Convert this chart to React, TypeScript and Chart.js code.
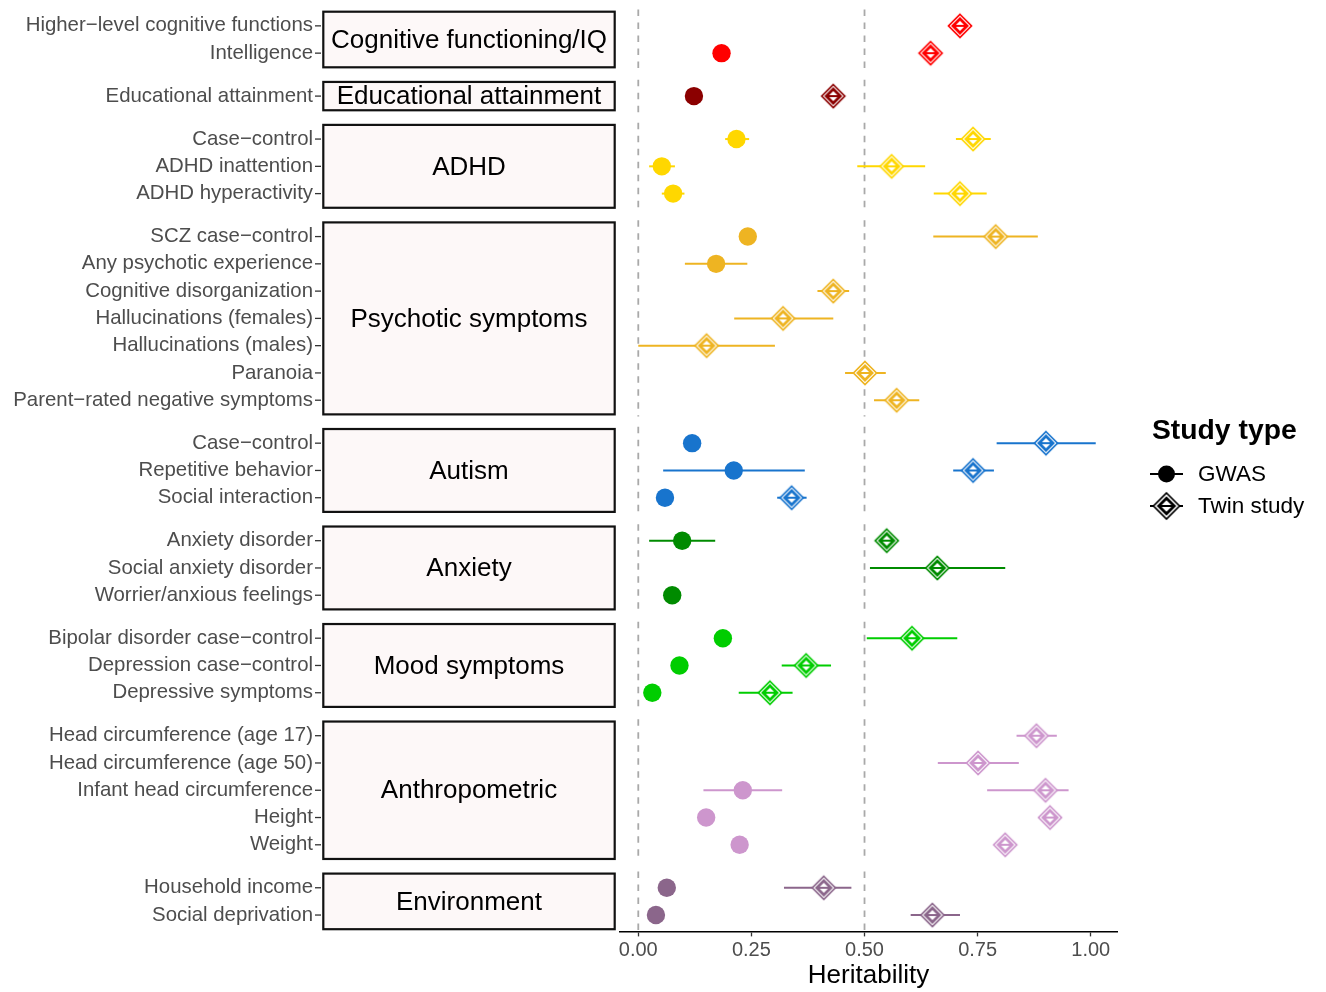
import React, { useEffect, useRef } from 'react';
import { Chart, registerables } from 'chart.js';

Chart.register(...registerables);

const FONT = '"Liberation Sans", Arial, Helvetica, sans-serif';

const groupNames = [
  'Cognitive functioning/IQ',
  'Educational attainment',
  'ADHD',
  'Psychotic symptoms',
  'Autism',
  'Anxiety',
  'Mood symptoms',
  'Anthropometric',
  'Environment',
];
const groupColors = ['#FF0000', '#8B0000', '#FFD700', '#EEB422', '#1874CD', '#008B00', '#00CD00', '#CD96CD', '#8B668B'];

const traitLabels = [
  'Higher\u2212level cognitive functions',
  'Intelligence',
  'Educational attainment',
  'Case\u2212control',
  'ADHD inattention',
  'ADHD hyperactivity',
  'SCZ case\u2212control',
  'Any psychotic experience',
  'Cognitive disorganization',
  'Hallucinations (females)',
  'Hallucinations (males)',
  'Paranoia',
  'Parent\u2212rated negative symptoms',
  'Case\u2212control',
  'Repetitive behavior',
  'Social interaction',
  'Anxiety disorder',
  'Social anxiety disorder',
  'Worrier/anxious feelings',
  'Bipolar disorder case\u2212control',
  'Depression case\u2212control',
  'Depressive symptoms',
  'Head circumference (age 17)',
  'Head circumference (age 50)',
  'Infant head circumference',
  'Height',
  'Weight',
  'Household income',
  'Social deprivation',
];
const traitGroup = [0, 0, 1, 2, 2, 2, 3, 3, 3, 3, 3, 3, 3, 4, 4, 4, 5, 5, 5, 6, 6, 6, 7, 7, 7, 7, 7, 8, 8];

const gwasH = [null, 0.184, 0.123, 0.217, 0.052, 0.077, 0.242, 0.172, null, null, null, null, null, 0.119, 0.211, 0.059, 0.097, null, 0.075, 0.187, 0.091, 0.031, null, null, 0.231, 0.150, 0.224, 0.063, 0.039];
const gwasLo = [null, null, null, 0.192, 0.024, 0.052, null, 0.103, null, null, null, null, null, null, 0.055, null, 0.024, null, null, null, null, null, null, null, 0.144, null, null, null, null];
const gwasHi = [null, null, null, 0.245, 0.081, 0.102, null, 0.241, null, null, null, null, null, null, 0.368, null, 0.170, null, null, null, null, null, null, null, 0.318, null, null, null, null];

const twinH = [0.711, 0.646, 0.431, 0.740, 0.560, 0.711, 0.790, null, 0.431, 0.320, 0.151, 0.501, 0.571, 0.901, 0.740, 0.339, 0.549, 0.661, null, 0.605, 0.371, 0.291, 0.880, 0.751, 0.900, 0.910, 0.811, 0.410, 0.650];
const twinLo = [null, null, null, 0.702, 0.484, 0.653, 0.652, null, 0.396, 0.212, 0.0, 0.457, 0.521, 0.792, 0.696, 0.307, null, 0.512, null, 0.505, 0.317, 0.222, 0.836, 0.662, 0.771, null, null, 0.322, 0.602];
const twinHi = [null, null, null, 0.779, 0.634, 0.770, 0.883, null, 0.466, 0.431, 0.302, 0.547, 0.621, 1.011, 0.786, 0.372, null, 0.811, null, 0.705, 0.426, 0.341, 0.925, 0.841, 0.951, null, null, 0.471, 0.711];

const xTicks = [0, 0.25, 0.5, 0.75, 1.0];
const refLines = [0, 0.5];
const legendTitle = 'Study type';
const legendItems = ['GWAS', 'Twin study'];
const xTitle = 'Heritability';

// layout of facet rows (in row units)
const PAD = 0.6;
const GAP = 0.375;
function buildLayout() {
  const pos: number[] = new Array(traitLabels.length).fill(0);
  const panels: { top: number; bottom: number }[] = [];
  let cursor = 0;
  groupNames.forEach((_, g) => {
    const idx = traitGroup.map((gg, i) => (gg === g ? i : -1)).filter((i) => i >= 0);
    const top = cursor;
    idx.forEach((i, k) => {
      pos[i] = top + PAD + k;
    });
    const bottom = top + idx.length - 1 + 2 * PAD;
    panels.push({ top, bottom });
    cursor = bottom + GAP;
  });
  return { pos, panels, total: cursor - GAP };
}

function twinMarker(color: string, outer = 11.5, inner = 7, size = 32) {
  const c = document.createElement('canvas');
  c.width = size;
  c.height = size;
  const ctx = c.getContext('2d')!;
  const m = size / 2;
  const diamond = (h: number) => {
    ctx.beginPath();
    ctx.moveTo(m, m - h);
    ctx.lineTo(m + h, m);
    ctx.lineTo(m, m + h);
    ctx.lineTo(m - h, m);
    ctx.closePath();
  };
  diamond(outer);
  ctx.fillStyle = '#ffffff';
  ctx.fill();
  ctx.lineWidth = 1.7;
  ctx.strokeStyle = color;
  ctx.stroke();
  diamond(inner);
  ctx.fillStyle = '#ffffff';
  ctx.fill();
  ctx.lineWidth = 2.8;
  ctx.stroke();
  ctx.beginPath();
  ctx.moveTo(m - inner + 0.3, m);
  ctx.lineTo(m + inner - 0.3, m);
  ctx.lineWidth = 2;
  ctx.stroke();
  return c;
}

export default function App() {
  const ref = useRef<HTMLCanvasElement>(null);
  useEffect(() => {
    const { pos, panels, total } = buildLayout();
    const markers = groupColors.map((c) => twinMarker(c));
    const blackMarker = twinMarker('#000000', 13, 7.8);

    const gIdx = gwasH.map((v, i) => (v == null ? -1 : i)).filter((i) => i >= 0);
    const tIdx = twinH.map((v, i) => (v == null ? -1 : i)).filter((i) => i >= 0);

    const facetPlugin = {
      id: 'facets',
      beforeDatasetsDraw(chart: any) {
        const ctx = chart.ctx;
        const xs = chart.scales.x;
        const ys = chart.scales.y;
        ctx.save();
        // dashed reference lines per panel
        ctx.strokeStyle = '#A9A9A9';
        ctx.lineWidth = 1.8;
        ctx.setLineDash([6.5, 6.5]);
        panels.forEach((p) => {
          refLines.forEach((v) => {
            const x = xs.getPixelForValue(v);
            ctx.beginPath();
            ctx.moveTo(x, ys.getPixelForValue(p.top));
            ctx.lineTo(x, ys.getPixelForValue(p.bottom));
            ctx.stroke();
          });
        });
        ctx.setLineDash([]);
        // error bars
        ctx.lineWidth = 2;
        traitLabels.forEach((_, i) => {
          const color = groupColors[traitGroup[i]];
          const y = ys.getPixelForValue(pos[i]);
          ctx.strokeStyle = color;
          if (gwasLo[i] != null && gwasHi[i] != null) {
            ctx.beginPath();
            ctx.moveTo(xs.getPixelForValue(gwasLo[i]), y);
            ctx.lineTo(xs.getPixelForValue(gwasHi[i]), y);
            ctx.stroke();
          }
          if (twinLo[i] != null && twinHi[i] != null) {
            ctx.beginPath();
            ctx.moveTo(xs.getPixelForValue(twinLo[i]), y);
            ctx.lineTo(xs.getPixelForValue(twinHi[i]), y);
            ctx.stroke();
          }
        });
        ctx.restore();
      },
      afterDraw(chart: any) {
        const ctx = chart.ctx;
        const ys = chart.scales.y;
        ctx.save();
        // strips
        const sx0 = 323.3;
        const sx1 = 614.7;
        panels.forEach((p, g) => {
          const y0 = ys.getPixelForValue(p.top) + 2.2;
          const y1 = ys.getPixelForValue(p.bottom) - 2.2;
          ctx.fillStyle = '#FDF8F8';
          ctx.fillRect(sx0, y0, sx1 - sx0, y1 - y0);
          ctx.strokeStyle = '#111111';
          ctx.lineWidth = 2.2;
          ctx.strokeRect(sx0, y0, sx1 - sx0, y1 - y0);
          ctx.fillStyle = '#000000';
          ctx.font = `26px ${FONT}`;
          ctx.textAlign = 'center';
          ctx.textBaseline = 'middle';
          ctx.fillText(groupNames[g], (sx0 + sx1) / 2, (y0 + y1) / 2 + 1);
        });
        // y tick marks
        ctx.strokeStyle = '#333333';
        ctx.lineWidth = 1.3;
        pos.forEach((v) => {
          const y = ys.getPixelForValue(v);
          ctx.beginPath();
          ctx.moveTo(315, y);
          ctx.lineTo(321, y);
          ctx.stroke();
        });
        // legend
        ctx.fillStyle = '#000000';
        ctx.textAlign = 'left';
        ctx.textBaseline = 'middle';
        ctx.font = `bold 28.3px ${FONT}`;
        ctx.fillText(legendTitle, 1152, 431);
        ctx.font = `22.5px ${FONT}`;
        const ly = [474, 506];
        ly.forEach((y, k) => {
          ctx.strokeStyle = '#000000';
          ctx.lineWidth = 2;
          ctx.beginPath();
          ctx.moveTo(1150, y);
          ctx.lineTo(1183, y);
          ctx.stroke();
          if (k === 0) {
            ctx.beginPath();
            ctx.arc(1166.5, y, 8.5, 0, Math.PI * 2);
            ctx.fill();
          } else {
            ctx.drawImage(blackMarker, 1166.5 - 16, y - 16);
          }
          ctx.fillText(legendItems[k], 1198, y + 1);
        });
        ctx.restore();
      },
    };

    const chart = new Chart(ref.current!, {
      type: 'scatter',
      data: {
        datasets: [
          {
            label: legendItems[0],
            data: gIdx.map((i) => ({ x: gwasH[i] as number, y: pos[i] })),
            pointBackgroundColor: gIdx.map((i) => groupColors[traitGroup[i]]),
            pointBorderWidth: 0,
            pointRadius: 9.2,
            pointStyle: 'circle',
          },
          {
            label: legendItems[1],
            data: tIdx.map((i) => ({ x: twinH[i] as number, y: pos[i] })),
            pointStyle: tIdx.map((i) => markers[traitGroup[i]]) as any,
            pointRadius: 12,
          },
        ],
      },
      options: {
        animation: false,
        responsive: true,
        maintainAspectRatio: false,
        layout: { autoPadding: false, padding: { top: 9.5, right: 209, bottom: 0, left: 0 } },
        plugins: { legend: { display: false }, tooltip: { enabled: false } },
        scales: {
          x: {
            type: 'linear',
            min: -0.0404,
            max: 1.058,
            afterBuildTicks: (scale: any) => {
              scale.ticks = xTicks.map((v) => ({ value: v }));
            },
            afterFit: (scale: any) => {
              scale.height = 60.6;
              scale.paddingLeft = 0;
              scale.paddingRight = 0;
            },
            ticks: {
              autoSkip: false,
              maxRotation: 0,
              padding: 2,
              color: '#4D4D4D',
              font: { family: FONT, size: 20 },
              callback: (v: any) => Number(v).toFixed(2),
            },
            grid: {
              display: true,
              drawOnChartArea: false,
              drawTicks: true,
              tickLength: 5,
              tickWidth: 1.3,
              color: '#333333',
            },
            border: { display: true, color: '#000000', width: 1.6 },
            title: {
              display: true,
              text: xTitle,
              color: '#000000',
              font: { family: FONT, size: 26 },
              padding: { top: 0, bottom: 1 },
            },
          },
          y: {
            type: 'linear',
            reverse: true,
            min: 0,
            max: total,
            afterBuildTicks: (scale: any) => {
              scale.ticks = pos.map((v) => ({ value: v }));
            },
            afterFit: (scale: any) => {
              scale.width = 620;
              scale.paddingTop = 0;
              scale.paddingBottom = 0;
            },
            ticks: {
              autoSkip: false,
              padding: 307,
              color: '#4D4D4D',
              font: { family: FONT, size: 20.4, lineHeight: 0.4 },
              callback: (_v: any, i: number) => traitLabels[i],
            },
            grid: { display: false, drawTicks: false },
            border: { display: false },
          },
        },
      },
      plugins: [facetPlugin],
    });
    return () => chart.destroy();
  }, []);

  return (
    <div style={{ position: 'fixed', left: 0, top: 0, width: 1326, height: 992, background: '#ffffff' }}>
      <canvas ref={ref} />
    </div>
  );
}
